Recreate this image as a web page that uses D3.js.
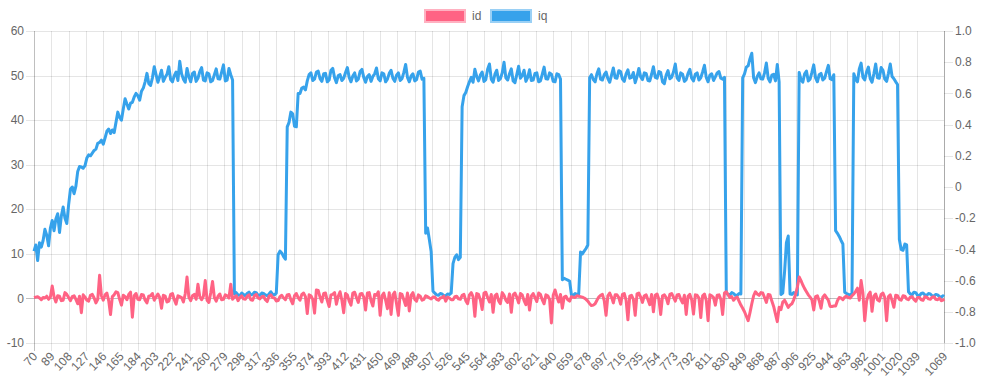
<!DOCTYPE html>
<html>
<head>
<meta charset="utf-8">
<script src="https://cdn.jsdelivr.net/npm/d3@7"></script>
<style>
  html, body { margin: 0; padding: 0; background: #fff; }
  #chart { width: 981px; height: 392px; }
  text { font-family: "Liberation Sans", Arial, Helvetica, sans-serif; }
</style>
</head>
<body>
<div id="chart"></div>
<script>
// sample positions (every 2nd sample of 70..1069, plus the last one)
const sampleX = d3.range(70, 1069, 2).concat([1069]);

const xTickLabels = [70, 89, 108, 127, 146, 165, 184, 203, 222, 241, 260, 279, 298, 317, 336, 355,
  374, 393, 412, 431, 450, 469, 488, 507, 526, 545, 564, 583, 602, 621, 640, 659, 678, 697, 716,
  735, 754, 773, 792, 811, 830, 849, 868, 887, 906, 925, 944, 963, 982, 1001, 1020, 1039, 1069];
const leftTicks = [-10, 0, 10, 20, 30, 40, 50, 60];
const rightTicks = ['1.0', '0.8', '0.6', '0.4', '0.2', '0', '-0.2', '-0.4', '-0.6', '-0.8', '-1.0'];
const seriesNames = ['id', 'iq'];

const iq = [
  10.6, 12, 8.5, 12.5, 11.5, 13, 15.5, 14.2, 11.8, 15.8, 17.5, 15.2, 17.8, 19, 14.8, 18.5, 20.5, 18, 16.8, 21,
  24.5, 25, 23.5, 25.2, 28.5, 29.6, 29.5, 29.2, 29.8, 31.5, 32.2, 32, 32.6, 33.2, 33.5, 34.8, 35, 35.5, 34.6, 36,
  37.5, 38, 37, 37.8, 37.2, 39.5, 41.8, 40.6, 40, 42.5, 44.8, 43.6, 42.5, 43.8, 44, 45.2, 46, 45.5, 44.5, 46.5,
  47.2, 48.6, 50.5, 48.2, 47.8, 49.5, 52, 50.2, 48.5, 49.8, 51.2, 48.7, 49.6, 50.3, 52, 49.1, 48.6, 50, 50.8, 48.9,
  53.2, 50.4, 49.2, 48.5, 51.6, 49.8, 48.6, 50.5, 50.8, 48.7, 49.4, 50.9, 51.8, 49, 48.8, 50.6, 50.4, 48.6, 48.9, 50.2,
  51.5, 49.3, 49.2, 50.8, 52.4, 48.8, 49, 51.6, 50.2, 49, 1, 1.3, 0.8, 0.6, 1.2, 0.9, 0.6, 1.1, 1.4, 0.8,
  0.9, 1.4, 1.3, 0.7, 0.7, 1.2, 1.1, 0.8, 0.6, 1, 1.5, 0.9, 0.8, 1.2, 9.8, 10.6, 10.2, 9.4, 8.8, 38.5,
  39.5, 41.8, 41.4, 38.6, 38.5, 46, 46, 47.2, 47.4, 46.8, 48.8, 50.2, 50.6, 48.9, 49.2, 50.8, 51, 49.3, 48.7, 50.4,
  50.5, 48.6, 49, 51.2, 51.6, 49.5, 48.4, 50, 50.2, 48.9, 49.4, 50.7, 51.8, 49.6, 48.6, 49.9, 50.6, 48.8, 49.2, 50.9,
  51.4, 49.6, 48.5, 49.8, 50.2, 48.7, 49.8, 50.4, 51.7, 49.3, 48.8, 50.6, 50.4, 48.6, 49.2, 50.5, 51.2, 49.4, 48.7, 50.1,
  50.6, 48.9, 49.3, 50.7, 52.5, 49.6, 48.6, 49.9, 50.4, 48.8, 49.1, 50.8, 51, 49.2, 49.4, 14.6, 15.8, 13.2, 10.5, 1.6,
  1.2, 0.8, 0.7, 1.1, 1, 0.6, 0.6, 1, 0.9, 1.2, 7.8, 9.2, 9.8, 8.7, 9.2, 43, 45.5, 46.2, 47.5, 48.6,
  49.6, 48.5, 51.4, 49.8, 48.8, 50.1, 50.8, 48.7, 49.1, 51.4, 52.6, 49.2, 48.5, 50.3, 51.2, 48.9, 49.3, 50.6, 53, 49.5,
  49, 50.4, 51.5, 48.8, 48.4, 50.2, 52.1, 49.4, 50, 51.2, 48.7, 49.6, 51.3, 48.9, 49, 50.5, 50.6, 48.6, 48.8, 50.3,
  51.9, 49.3, 49.2, 50.6, 50.3, 48.7, 48.6, 50.4, 50.2, 49.2, 4.2, 4.5, 4.3, 4.1, 3.9, 0.8, 0.7, 1.1, 0.9, 1,
  10.4, 10, 10.6, 11.2, 12, 49.5, 50.2, 49.1, 48.6, 50.4, 51.5, 49.2, 49, 50.2, 50.8, 49.3, 48.5, 50.1, 51.7, 49.5,
  49.4, 51.1, 50.9, 49.2, 48.7, 50.4, 51.3, 49.4, 49.6, 50.7, 48.4, 49.8, 51.6, 49.7, 49.1, 50.6, 50.5, 48.9, 48.8, 50.3,
  52, 49.6, 49.4, 50.9, 50.7, 48.6, 48.2, 50.1, 51.1, 49.3, 49.6, 50.8, 52.6, 49.5, 48.9, 50.6, 50.3, 48.7, 49.1, 50.5,
  51.4, 49.4, 48.8, 50.3, 50.6, 49, 49.5, 50.8, 52.3, 49.6, 48.6, 50.1, 50.4, 48.9, 49.7, 50.6, 50.9, 49.4, 49.2, 49.6,
  1.2, 0.9, 0.8, 1.3, 1.1, 0.7, 0.7, 1.1, 1, 49.5, 50.4, 51.9, 52.2, 53.8, 55, 49.5, 48.4, 49.8, 50.6, 49.3,
  49.2, 50.6, 52.8, 49.4, 48.6, 50.1, 50.3, 48.8, 52.5, 48.6, 0.9, 1.2, 6, 12.5, 14, 1, 0.9, 1.3, 1.1, 0.8,
  50.7, 49.1, 48.5, 50.4, 51, 48.8, 49.2, 50.7, 52.4, 49.5, 48.6, 50.2, 50.5, 49, 49.4, 50.9, 52.3, 49.3, 49.1, 50.2,
  15.2, 14.6, 13.9, 13, 12.2, 1.4, 1.1, 0.9, 0.8, 1, 50.4, 49.2, 48.6, 51.5, 52.8, 49.6, 49, 50.8, 51.9, 49.3,
  48.5, 50.4, 52.6, 49.5, 49.4, 51.8, 51.2, 49.2, 48.7, 50.5, 52.6, 49.8, 49.3, 48.6, 48, 13.2, 11, 10.8, 12.2, 12,
  1.5, 1, 0.8, 1.4, 1.3, 0.7, 0.6, 1.1, 1.2, 0.8, 0.7, 1.1, 1, 0.6, 0.5, 0.9, 0.8, 0.4, 0.3, 0.6,
  0.4
];

const id = [
  0.2, 0.3, 0.4, 0.1, -0.3, 0.2, 0.1, 0.5, -0.2, 0.3, 2.8, 0.4, -0.8, 0.6, 0.5, -0.5, -0.4, 1.3, 0.9, 0.2,
  -0.5, 0.4, 0.6, -0.2, -1.2, 0.5, -3.2, 0.8, 0.3, -0.4, -0.6, 0.7, 0.9, 0.1, -1, -0.2, 5.2, 0.6, -0.4, 0.8,
  1.2, -0.5, -3.6, 0.4, 0.8, 1.5, 1.3, -0.2, -1.5, 0.7, 0.4, -0.3, 0.9, 1.4, -4.2, 0.6, 1.1, -0.2, -0.3, 0.9,
  0.8, -0.4, -1, 0.5, 0.6, 1.1, -0.4, 0.3, 1, 0.2, -2.2, 0.7, 0.5, -0.8, -0.6, 0.9, 1.1, -0.3, -1.3, 0.6,
  0.4, 0.2, -0.8, 1, 4.8, 0.3, -0.5, 0.6, 0.9, -0.2, 3.2, 0.4, -0.3, 0.5, 4, -0.4, -0.9, 1.2, 3.8, 0.2,
  -0.6, 0.5, 1, -0.3, -0.2, 0.8, 0.6, 0.1, 3.2, -0.2, 0.3, 0.6, -0.5, 0.2, 0.6, -0.1, -0.2, 0.5, 0.8, -0.3,
  -0.4, 0.6, 0.9, 0.1, -0.1, 0.4, 0.5, -0.3, -0.7, 0.5, 0.8, 0.2, 0.1, -0.6, -0.5, 0.4, 0.7, 0.1, -0.3, 0.8,
  0.9, -0.3, -1.2, 0.6, 1.1, 0.2, -0.4, 0.9, 1.2, 0.4, -3.4, 0.8, 0.6, -0.2, -3.3, 1.9, 1.8, 0.3, -0.8, 1.1,
  1.2, -0.5, -1.8, 0.8, 0.9, 1.3, -1.3, 0.5, 1.5, -0.4, -3.2, 1.1, 0.8, -0.6, -1.5, 1.2, 1.4, 0.2, -0.9, 1,
  1.1, 0.3, -2.6, 1.2, 1.3, -0.5, -1.7, 0.9, 0.7, 1.5, -3.8, 0.6, 1.2, -0.4, -2.3, 1.3, -3.6, 0.8, 1.4, -1.2,
  -3.8, 1.1, 0.9, -0.3, -1.6, 1.2, -2.8, 0.7, 1.3, -0.2, -0.6, 0.8, 0.5, -0.4, -0.2, 0.6, 0.4, 0.1, -0.1, 0.3,
  0.3, -0.2, -0.4, 0.1, 0.2, 0.5, -0.6, 0.3, 0.1, -0.3, -0.3, 0.4, 0.5, -0.1, -0.2, 0.7, 0.9, -0.5, -1.2, 0.8,
  1.3, 0.4, -4, 1.1, 0.9, -0.3, -2.5, 1.2, 1.4, 0.2, -0.8, 0.9, -3.1, 0.6, 1, -0.5, -1.2, 1.3, 0.7, -0.4,
  -0.9, 1, -3.1, 0.8, 1.2, 0.3, -1, 1.1, 0.8, -0.5, -1.4, 0.9, -2.6, 0.5, 1.1, 0.2, -0.7, 1.2, 0.9, -0.3,
  -1.2, 0.8, 0.6, -0.2, -5.5, 0.7, 1.9, 0.4, -0.8, 0.9, -2.2, 0.3, 0.5, -0.3, -0.6, 0.4, 0.3, 0.2, 0.6, 0.5,
  0.4, 0.3, 0.1, -0.2, -0.6, -1.2, -1.6, -1.5, -1.2, -0.4, 0.3, 0.7, 0.9, -0.5, -3.8, 0.6, 1.2, 0.3, -1, 0.8,
  0.8, 0.2, -1.3, 0.9, 1.1, -0.4, -4.8, 0.5, 0.7, -0.2, -3.8, 1, 1.2, 0.3, -0.9, 0.6, 0.8, -0.3, -1.4, 0.9,
  -3, 0.7, 1, -0.2, -3.6, 0.6, 0.8, 0.2, -1.2, 0.9, 1.1, 0.3, -0.6, 0.8, 0.9, -0.2, -1, 0.7, -3.6, 0.5,
  0.9, -0.3, -3.5, 0.8, 0.7, 0.1, -4.3, 0.6, 1, -0.4, -5, 0.8, 0.6, 0.2, -1.5, 0.7, 0.8, -0.2, -3.6, 1.2,
  1.5, 0.8, 0.2, 0.4, -0.4, 0.1, 0.3, -0.6, -1.5, -2.2, -3, -4, -5, -3.2, -1.2, 0.6, 1.5, 1, 0.7, 1.3,
  1.2, 0.2, -0.9, 0.9, 0.8, -0.6, -1.8, -3.5, -5.2, -2, -2.5, -0.8, -0.4, -1.2, -2, -1.5, -1.2, -0.3, 0.9, 2.5,
  4.8, 4, 3, 2.2, 1.5, 0.8, 0.3, -0.3, -2.6, 0.4, 0.6, -0.5, -2.2, 0.3, 0.8, 0.2, -0.4, -1.8, -1.8, -1.7,
  -1.7, -0.5, 0.2, 0.1, -0.3, 0.3, 0.5, 0.2, 0.1, 0.6, 1, 1.6, 2.3, -0.4, 4, 1.2, -5, -0.6, 0.8, 1.4,
  -2.9, 0.5, 1, -0.3, -0.6, 0.9, 1.2, 0.2, -5, 0.4, 0.8, -0.5, -2, 0.7, 0.6, -0.2, -0.4, 0.6, 0.5, -0.1,
  -0.3, 0.3, 0.4, -0.2, -0.6, 0.2, 0.2, -0.3, -0.4, 0.4, 0.3, -0.1, -0.2, 0.3, 0.4, -0.2, -0.3, 0.1, -0.5, -0.3,
  -0.6
];

const COLORS = { id: '#ff6384', iq: '#36a2eb', idLight: '#ffb1c1', iqLight: '#9ad0f5' };

const W = 981, H = 392;
const margin = { top: 31, right: 37, bottom: 49, left: 34 };
const width = W - margin.left - margin.right;
const height = H - margin.top - margin.bottom;

const svg = d3.select('#chart').append('svg')
  .attr('width', W)
  .attr('height', H);

const g = svg.append('g').attr('transform', `translate(${margin.left},${margin.top})`);

const x = d3.scaleLinear().domain([70, 1069]).range([0, width]);
const y = d3.scaleLinear().domain([-10, 60]).range([height, 0]);
const yRight = d3.scaleLinear().domain([-1, 1]).range([height, 0]);

// Horizontal grid + left ticks
g.selectAll('.hgrid')
  .data(leftTicks)
  .join('line')
  .attr('x1', -8).attr('x2', width)
  .attr('y1', d => Math.round(y(d)) + 0.5).attr('y2', d => Math.round(y(d)) + 0.5)
  .attr('stroke', d => d === 0 ? 'rgba(0,0,0,0.25)' : 'rgba(0,0,0,0.1)')
  .attr('stroke-width', 1);

g.selectAll('.ylab')
  .data(leftTicks)
  .join('text')
  .attr('x', -10)
  .attr('y', d => y(d))
  .attr('dy', '0.35em')
  .attr('text-anchor', 'end')
  .attr('fill', '#666')
  .attr('font-size', '12px')
  .text(d => d);

// Vertical grid at labelled categories
g.selectAll('.vgrid')
  .data(xTickLabels)
  .join('line')
  .attr('x1', d => Math.round(x(d)) + 0.5).attr('x2', d => Math.round(x(d)) + 0.5)
  .attr('y1', 0).attr('y2', height + 8)
  .attr('stroke', (d, i) => i === 0 ? 'rgba(0,0,0,0.25)' : 'rgba(0,0,0,0.1)')
  .attr('stroke-width', 1);

g.selectAll('.xlab')
  .data(xTickLabels)
  .join('text')
  .attr('transform', d => `translate(${x(d) + 1},${height + 11}) rotate(-47)`)
  .attr('dy', '0.35em')
  .attr('text-anchor', 'end')
  .attr('fill', '#666')
  .attr('font-size', '12px')
  .text(d => d);

// Right axis (ticks only, no grid in the chart area)
g.append('line')
  .attr('x1', width + 0.5).attr('x2', width + 0.5)
  .attr('y1', 0).attr('y2', height)
  .attr('stroke', 'rgba(0,0,0,0.25)');

g.selectAll('.rtick')
  .data(rightTicks)
  .join('line')
  .attr('x1', width).attr('x2', width + 9)
  .attr('y1', d => Math.round(yRight(+d)) + 0.5).attr('y2', d => Math.round(yRight(+d)) + 0.5)
  .attr('stroke', 'rgba(0,0,0,0.1)');

g.selectAll('.rlab')
  .data(rightTicks)
  .join('text')
  .attr('x', width + 11)
  .attr('y', d => yRight(+d))
  .attr('dy', '0.35em')
  .attr('fill', '#666')
  .attr('font-size', '12px')
  .text(d => d);

// Lines (iq underneath, id on top)
const line = d3.line()
  .x((d, i) => x(sampleX[i]))
  .y(d => y(d));

g.append('path')
  .datum(iq)
  .attr('fill', 'none')
  .attr('stroke', COLORS.iq)
  .attr('stroke-width', 3)
  .attr('stroke-linejoin', 'round')
  .attr('d', line);

g.append('path')
  .datum(id)
  .attr('fill', 'none')
  .attr('stroke', COLORS.id)
  .attr('stroke-width', 3)
  .attr('stroke-linejoin', 'round')
  .attr('d', line);

// Legend
const legendItems = [
  { name: seriesNames[0], color: COLORS.id, light: COLORS.idLight, x: 425 },
  { name: seriesNames[1], color: COLORS.iq, light: COLORS.iqLight, x: 491 }
];
const legend = svg.append('g');
legendItems.forEach(it => {
  legend.append('rect')
    .attr('x', it.x).attr('y', 10)
    .attr('width', 40).attr('height', 12)
    .attr('fill', it.color)
    .attr('stroke', it.light)
    .attr('stroke-width', 2);
  legend.append('text')
    .attr('x', it.x + 47)
    .attr('y', 16)
    .attr('dy', '0.35em')
    .attr('fill', '#666')
    .attr('font-size', '12px')
    .text(it.name);
});
</script>
</body>
</html>
